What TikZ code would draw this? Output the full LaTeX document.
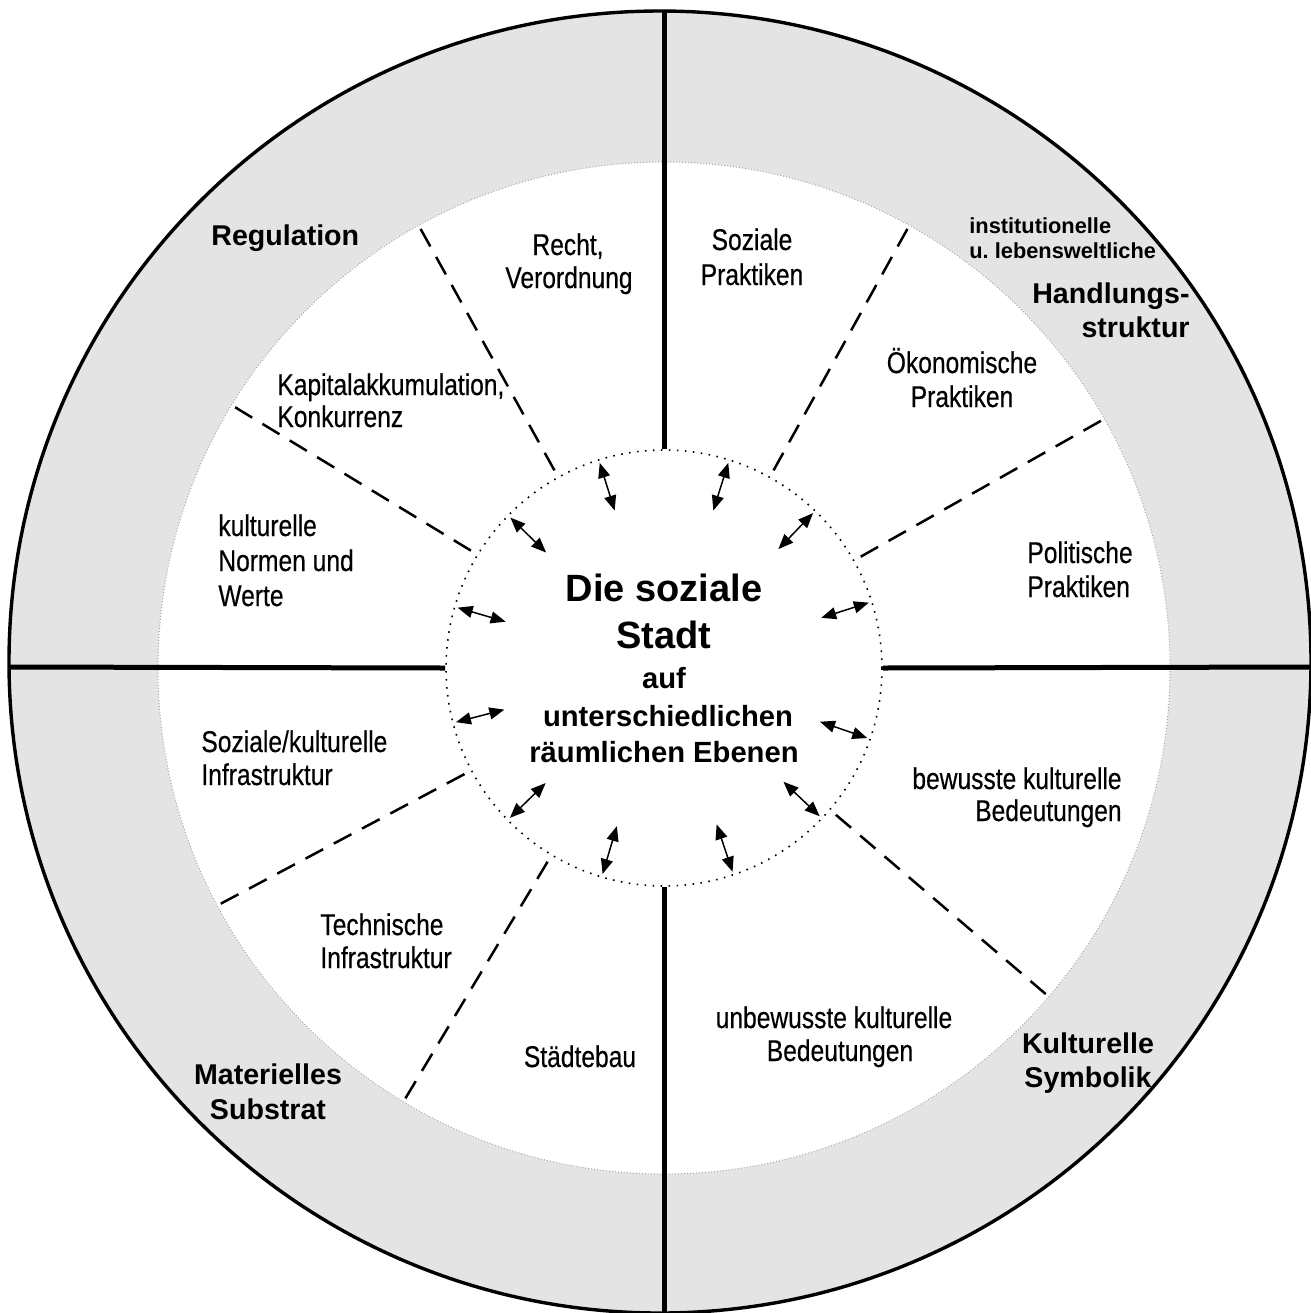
\documentclass[tikz,border=0pt]{standalone}
\usepackage{fontspec}
\setmainfont{Liberation Sans}
\newfontfamily\narrowfont[FakeStretch=0.82,FakeBold=0.4]{Liberation Sans}
\usetikzlibrary{arrows.meta}
\definecolor{ringgray}{RGB}{228,228,228}
\tikzset{
  narrowlbl/.style={font=\narrowfont\fontsize{15}{18}\selectfont, inner sep=0pt},
  ringlbl/.style={font=\bfseries\fontsize{14.3}{17}\selectfont, inner sep=0pt},
  smallring/.style={font=\bfseries\fontsize{10.9}{13}\selectfont, inner sep=0pt},
  titlebig/.style={font=\bfseries\fontsize{19}{22}\selectfont, inner sep=0pt},
  titlesmall/.style={font=\bfseries\fontsize{14.6}{17}\selectfont, inner sep=0pt},
  divider/.style={line width=1.25pt, dash pattern=on 10pt off 6pt},
  axisline/.style={line width=2.5pt},
  whiteedge/.style={line width=0.5pt, gray!70, dash pattern=on 0.5pt off 1pt},
  linkarrow/.style={line width=0.75pt, {Triangle[length=7.5pt,width=6pt]}-{Triangle[length=7.5pt,width=6pt]}},
}
\begin{document}
\begin{tikzpicture}[x=0.5pt,y=-0.5pt]
\useasboundingbox (0,0) rectangle (1311,1313);
\fill[white] (0,0) rectangle (1311,1313);
\coordinate (O) at (660,662);
\coordinate (C) at (664,668);
\begin{scope}
  \clip (0,0) rectangle (1311,1313);
  \fill[ringgray] (O) circle[radius=651];
  \fill[white] (C) circle[radius=506];
  \draw[whiteedge] (C) circle[radius=506];
  \draw[line width=1.7pt] (O) circle[radius=651];
\end{scope}

% central hub
\node[circle, draw, line width=0.8pt, dash pattern=on 0.8pt off 3.2pt,
      minimum size=218pt, inner sep=0pt] (hub) at (C) {};

% axis lines
\coordinate (axL) at (10,667);
\coordinate (axR) at (1311,667);
\coordinate (axT) at (664,10);
\coordinate (axB) at (664,1313);
\draw[axisline] (axL) -- (hub.west);
\draw[axisline] (hub.east) -- (axR);
\draw[axisline] (axT) -- (hub.north);
\draw[axisline] (hub.south) -- (axB);

% dashed dividers
\foreach \a [count=\i] in {29.5,61,119,148.7,208,239,319.5}{
  \coordinate (d\i i) at ([shift={(-\a:226)}]C);
  \coordinate (d\i o) at ([shift={(-\a:506)}]C);
  \draw[divider] (d\i i) -- (d\i o);
}

% double arrows
\foreach \a [count=\i] in {17.7,46.1,72.6,107.4,135.6,163.7,194.6,224.2,253.4,288.6,316.4,341}{
  \coordinate (a\i i) at ([shift={(-\a:165)}]C);
  \coordinate (a\i o) at ([shift={(-\a:215)}]C);
  \draw[linkarrow] (a\i i) -- (a\i o);
}

% centre title
\node[titlebig, anchor=base] (t1) at (664,601) {Die soziale};
\node[titlebig, anchor=base] (t2) at (664,648) {Stadt};
\node[titlesmall, anchor=base] (t3) at (664,688) {auf};
\node[titlesmall, anchor=base] (t4) at (668,726) {unterschiedlichen};
\node[titlesmall, anchor=base] (t5) at (664,762) {räumlichen Ebenen};

% ring labels
\node[ringlbl, anchor=base west] (reg) at (211,245) {Regulation};
\node[smallring, anchor=base west] (inst1) at (969,233) {institutionelle};
\node[smallring, anchor=base west] (inst2) at (969,258) {u.\ lebensweltliche};
\node[ringlbl, anchor=base east] (hand1) at (1190,303) {Handlungs-};
\node[ringlbl, anchor=base east] (hand2) at (1190,337) {struktur};
\node[ringlbl, anchor=base] (kult1) at (1088,1053) {Kulturelle};
\node[ringlbl, anchor=base] (kult2) at (1088,1087) {Symbolik};
\node[ringlbl, anchor=base] (mat1) at (268,1084) {Materielles};
\node[ringlbl, anchor=base] (mat2) at (268,1119) {Substrat};

% sector labels
\node[narrowlbl, anchor=base] (r1) at (568,255) {Recht,};
\node[narrowlbl, anchor=base] (r2) at (569,288) {Verordnung};
\node[narrowlbl, anchor=base] (s1) at (752,250) {Soziale};
\node[narrowlbl, anchor=base] (s2) at (752,285) {Praktiken};
\node[narrowlbl, anchor=base] (o1) at (962,373) {Ökonomische};
\node[narrowlbl, anchor=base] (o2) at (962,407) {Praktiken};
\node[narrowlbl, anchor=base west] (k1) at (277,395) {Kapitalakkumulation,};
\node[narrowlbl, anchor=base west] (k2) at (277,427) {Konkurrenz};
\node[narrowlbl, anchor=base west] (n1) at (218,536) {kulturelle};
\node[narrowlbl, anchor=base west] (n2) at (218,571) {Normen und};
\node[narrowlbl, anchor=base west] (n3) at (218,606) {Werte};
\node[narrowlbl, anchor=base west] (p1) at (1027,563) {Politische};
\node[narrowlbl, anchor=base west] (p2) at (1027,597) {Praktiken};
\node[narrowlbl, anchor=base west] (i1) at (201,752) {Soziale/kulturelle};
\node[narrowlbl, anchor=base west] (i2) at (201,785) {Infrastruktur};
\node[narrowlbl, anchor=base east] (b1) at (1122,789) {bewusste kulturelle};
\node[narrowlbl, anchor=base east] (b2) at (1122,821) {Bedeutungen};
\node[narrowlbl, anchor=base west] (te1) at (320,935) {Technische};
\node[narrowlbl, anchor=base west] (te2) at (320,968) {Infrastruktur};
\node[narrowlbl, anchor=base] (st) at (580,1067) {Städtebau};
\node[narrowlbl, anchor=base] (u1) at (834,1028) {unbewusste kulturelle};
\node[narrowlbl, anchor=base] (u2) at (840,1061) {Bedeutungen};
\end{tikzpicture}
\end{document}
